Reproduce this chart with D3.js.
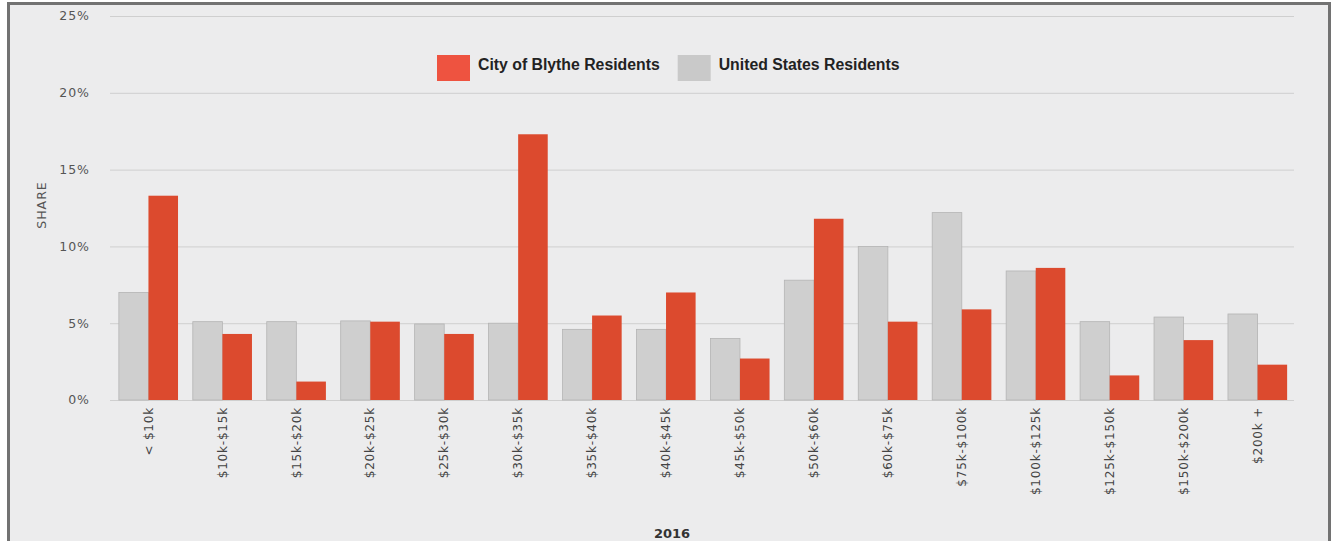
<!DOCTYPE html>
<html>
<head>
<meta charset="utf-8">
<script src="https://cdn.jsdelivr.net/npm/d3@7"></script>
<style>
    body { margin: 0; background: #ffffff; }
    .tick-label { font-family: "DejaVu Sans", Verdana, sans-serif; font-size: 12.5px; letter-spacing: 1px; fill: #555; }
    .cat-label { font-family: "DejaVu Sans", Verdana, sans-serif; font-size: 12px; letter-spacing: 0.8px; fill: #444; }
    .legend-label { font-family: "Liberation Sans", Arial, sans-serif; font-size: 15.8px; font-weight: bold; fill: #222; }
</style>
</head>
<body>
<svg id="chart" width="1338" height="541"></svg>
<script>
const CATEGORIES = [
    "< $10k", "$10k-$15k", "$15k-$20k", "$20k-$25k", "$25k-$30k", "$30k-$35k",
    "$35k-$40k", "$40k-$45k", "$45k-$50k", "$50k-$60k", "$60k-$75k",
    "$75k-$100k", "$100k-$125k", "$125k-$150k", "$150k-$200k", "$200k +"
];
const US_VALUES = [7.0, 5.1, 5.1, 5.15, 4.95, 5.0, 4.6, 4.6, 4.0, 7.8, 10.0, 12.2, 8.4, 5.1, 5.4, 5.6];
const BLYTHE_VALUES = [13.3, 4.3, 1.2, 5.1, 4.3, 17.3, 5.5, 7.0, 2.7, 11.8, 5.1, 5.9, 8.6, 1.6, 3.9, 2.3];
const Y_TICKS = [0, 5, 10, 15, 20, 25];
const SERIES = ["United States Residents", "City of Blythe Residents"];
const LEGEND_ORDER = ["City of Blythe Residents", "United States Residents"];
const YEAR_LABEL = "2016";
const AXIS_TITLE = "SHARE";

const COLORS = new Map();
COLORS.set("United States Residents", "#cfcfcf");
COLORS.set("City of Blythe Residents", "#dc4a2e");
const LEGEND_COLORS = new Map();
LEGEND_COLORS.set("United States Residents", "#c9c9c9");
LEGEND_COLORS.set("City of Blythe Residents", "#ee5340");

const svg = d3.select("#chart");

// Frame
svg.append("rect")
    .attr("x", 8.5)
    .attr("y", 3.5)
    .attr("width", 1321)
    .attr("height", 560)
    .style("fill", "#ececed")
    .style("stroke", "#727272")
    .style("stroke-width", 3);

// Make vertical scale
const verticalScale = d3.scaleLinear()
    .domain([0, 25])
    .range([400, 16]);

// Make horizontal scale
const horizontalScale = d3.scaleBand()
    .domain(CATEGORIES)
    .range([110, 1296])
    .paddingInner(0.2)
    .paddingOuter(0.12);

const seriesScale = d3.scaleBand()
    .domain(SERIES)
    .range([0, horizontalScale.bandwidth()]);

// Grid lines and value ticks
svg.selectAll(".grid")
    .data(Y_TICKS)
    .enter().append("line")
    .classed("grid", true)
    .attr("x1", 110)
    .attr("x2", 1294)
    .attr("y1", (v) => verticalScale(v) + 0.5)
    .attr("y2", (v) => verticalScale(v) + 0.5)
    .style("stroke", "#cfcfcf")
    .style("stroke-width", 1);

svg.selectAll(".value-tick")
    .data(Y_TICKS)
    .enter().append("text")
    .classed("tick-label", true)
    .classed("value-tick", true)
    .attr("x", 90)
    .attr("y", (v) => verticalScale(v))
    .attr("dy", "0.35em")
    .attr("text-anchor", "end")
    .text((v) => v + "%");

svg.append("text")
    .classed("tick-label", true)
    .attr("transform", "translate(46 205) rotate(-90)")
    .attr("text-anchor", "middle")
    .text(AXIS_TITLE);

// Bars
const buildData = () => CATEGORIES.flatMap((cat, i) => [
    { "series": SERIES[0], "cat": cat, "value": US_VALUES[i] },
    { "series": SERIES[1], "cat": cat, "value": BLYTHE_VALUES[i] }
]);

svg.selectAll(".bar")
    .data(buildData())
    .enter().append("rect")
    .classed("bar", true)
    .attr("x", (d) => horizontalScale(d["cat"]) + seriesScale(d["series"]))
    .attr("y", (d) => verticalScale(d["value"]))
    .attr("width", seriesScale.bandwidth())
    .attr("height", (d) => verticalScale(0) - verticalScale(d["value"]))
    .style("fill", (d) => COLORS.get(d["series"]))
    .style("stroke", (d) => d["series"] == SERIES[0] ? "#b4b4b4" : "none")
    .style("stroke-width", 0.8);

// Category labels
svg.selectAll(".cat-label")
    .data(CATEGORIES)
    .enter().append("text")
    .classed("cat-label", true)
    .attr("transform", (cat) => {
        const x = horizontalScale(cat) + horizontalScale.bandwidth() / 2;
        return "translate(" + x + " 407) rotate(-90)";
    })
    .attr("dy", "0.35em")
    .attr("text-anchor", "end")
    .text((cat) => cat);

// Legend
const legend = svg.append("g").attr("transform", "translate(437 55)");
let legendX = 0;
LEGEND_ORDER.forEach((name) => {
    const item = legend.append("g").attr("transform", "translate(" + legendX + " 0)");
    item.append("rect")
        .attr("width", 33)
        .attr("height", 26)
        .style("fill", LEGEND_COLORS.get(name));
    const label = item.append("text")
        .classed("legend-label", true)
        .attr("x", 41)
        .attr("y", 15)
        .text(name);
    legendX += 41 + label.node().getComputedTextLength() + 18;
});

// Year title
svg.append("text")
    .attr("x", 672)
    .attr("y", 538)
    .attr("text-anchor", "middle")
    .style("font-family", "\"DejaVu Sans\", Verdana, sans-serif")
    .style("font-size", "13px")
    .style("font-weight", "bold")
    .style("fill", "#333")
    .text(YEAR_LABEL);
</script>
</body>
</html>
